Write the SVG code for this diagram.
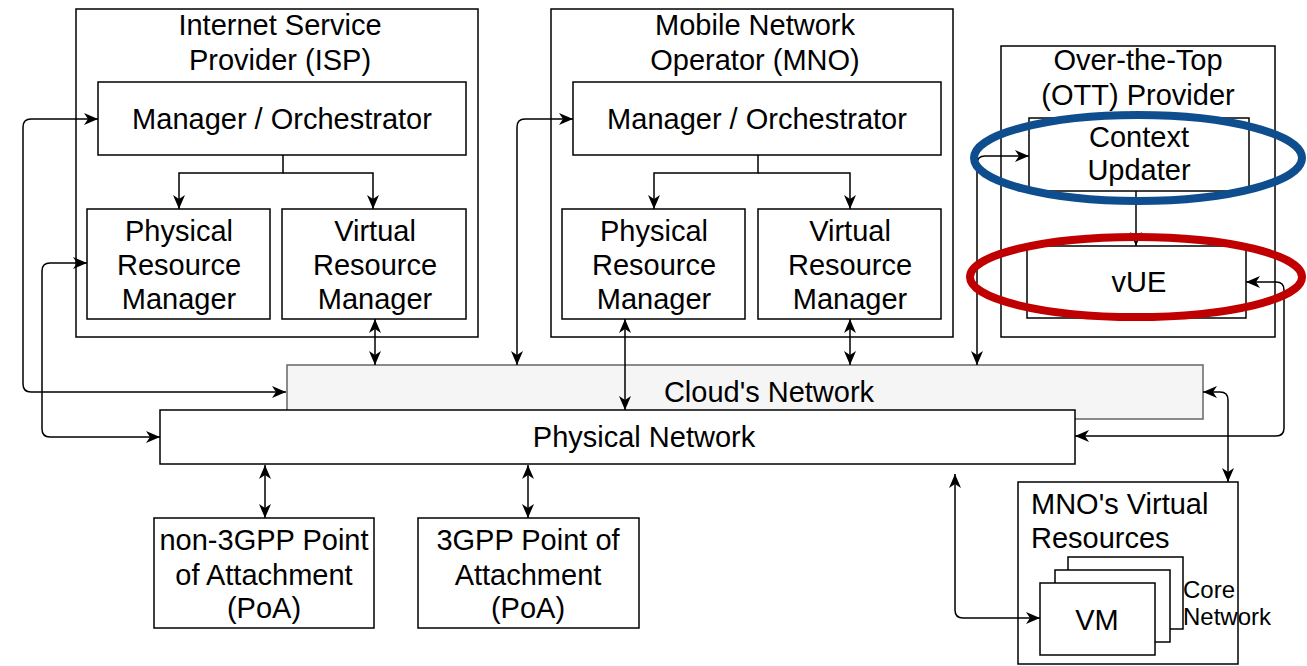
<svg xmlns="http://www.w3.org/2000/svg" width="1307" height="666" viewBox="0 0 1307 666">
<defs>
<style>
.box{fill:#ffffff;stroke:#000000;stroke-width:1.5}
.t{font-family:"Liberation Sans",Arial,Helvetica,sans-serif;font-size:29px;fill:#000000;text-anchor:middle}
.tl{font-family:"Liberation Sans",Arial,Helvetica,sans-serif;font-size:29px;fill:#000000;text-anchor:start}
.ts{font-family:"Liberation Sans",Arial,Helvetica,sans-serif;font-size:24px;fill:#000000;text-anchor:start}
.c{fill:none;stroke:#000000;stroke-width:1.5}
</style>
<marker id="ah" viewBox="0 0 14 12" refX="14" refY="6" markerWidth="14" markerHeight="12" markerUnits="userSpaceOnUse" orient="auto-start-reverse">
<path d="M0,0 L14,6 L0,12 L4,6 Z" fill="#000000"/>
</marker>
</defs>
<rect width="1307" height="666" fill="#ffffff"/>

<g id="isp">
<rect class="box" x="76" y="9" width="402" height="328"/>
<text class="t" x="280" y="35">Internet Service</text>
<text class="t" x="280" y="70">Provider (ISP)</text>
</g>
<g id="isp-mo">
<rect class="box" x="98" y="82" width="368" height="73"/>
<text class="t" x="282" y="129">Manager / Orchestrator</text>
</g>
<g id="isp-prm">
<rect class="box" x="87" y="209" width="183" height="110"/>
<text class="t" x="179" y="241">Physical</text>
<text class="t" x="179" y="275">Resource</text>
<text class="t" x="179" y="309">Manager</text>
</g>
<g id="isp-vrm">
<rect class="box" x="282" y="209" width="184" height="110"/>
<text class="t" x="375" y="241">Virtual</text>
<text class="t" x="375" y="275">Resource</text>
<text class="t" x="375" y="309">Manager</text>
</g>

<g id="mno">
<rect class="box" x="551" y="9" width="402" height="328"/>
<text class="t" x="755" y="35">Mobile Network</text>
<text class="t" x="755" y="70">Operator (MNO)</text>
</g>
<g id="mno-mo">
<rect class="box" x="573" y="82" width="368" height="73"/>
<text class="t" x="757" y="129">Manager / Orchestrator</text>
</g>
<g id="mno-prm">
<rect class="box" x="562" y="209" width="183" height="110"/>
<text class="t" x="654" y="241">Physical</text>
<text class="t" x="654" y="275">Resource</text>
<text class="t" x="654" y="309">Manager</text>
</g>
<g id="mno-vrm">
<rect class="box" x="758" y="209" width="183" height="110"/>
<text class="t" x="850" y="241">Virtual</text>
<text class="t" x="850" y="275">Resource</text>
<text class="t" x="850" y="309">Manager</text>
</g>

<g id="ott">
<rect class="box" x="1001" y="46" width="274" height="291"/>
<text class="t" x="1138" y="70">Over-the-Top</text>
<text class="t" x="1138" y="105">(OTT) Provider</text>
</g>
<g id="context-updater">
<rect class="box" x="1029" y="118" width="220" height="73"/>
<text class="t" x="1139" y="147">Context</text>
<text class="t" x="1139" y="180">Updater</text>
</g>
<g id="vue">
<rect class="box" x="1027" y="246" width="219" height="72"/>
<text class="t" x="1139" y="292">vUE</text>
</g>

<g id="clouds-network">
<rect x="287" y="365" width="916" height="54" fill="#f5f5f5" stroke="#666666" stroke-width="1.5"/>
<text class="t" x="769" y="402">Cloud's Network</text>
</g>
<g id="physical-network">
<rect class="box" x="160" y="410" width="915" height="54"/>
<text class="t" x="644" y="447">Physical Network</text>
</g>

<g id="non3gpp-poa">
<rect class="box" x="154" y="518" width="220" height="110"/>
<text class="t" x="264" y="550">non-3GPP Point</text>
<text class="t" x="264" y="585">of Attachment</text>
<text class="t" x="264" y="618">(PoA)</text>
</g>
<g id="3gpp-poa">
<rect class="box" x="418" y="518" width="221" height="110"/>
<text class="t" x="528" y="550">3GPP Point of</text>
<text class="t" x="528" y="585">Attachment</text>
<text class="t" x="528" y="618">(PoA)</text>
</g>

<g id="mno-virtual-resources">
<rect class="box" x="1018" y="482" width="220" height="182"/>
<text class="tl" x="1031" y="514">MNO's Virtual</text>
<text class="tl" x="1031" y="548">Resources</text>
<rect class="box" x="1068" y="557" width="115" height="72"/>
<rect class="box" x="1055" y="570" width="115" height="72"/>
<rect class="box" x="1040" y="583" width="115" height="72"/>
<text class="t" x="1097" y="630">VM</text>
<text class="ts" x="1183" y="598">Core</text>
<text class="ts" x="1183" y="625">Network</text>
</g>

<g id="connectors">
<path class="c" d="M286 392 L31 392 Q23 392 23 384 L23 127 Q23 119 31 119 L98 119" marker-start="url(#ah)" marker-end="url(#ah)"/>
<path class="c" d="M87 263 L50 263 Q42 263 42 271 L42 429 Q42 437 50 437 L160 437" marker-start="url(#ah)" marker-end="url(#ah)"/>
<path class="c" d="M283 155 L283 173 L179 173 L179 209" marker-end="url(#ah)"/>
<path class="c" d="M283 173 L373 173 L373 209" marker-end="url(#ah)"/>
<path class="c" d="M758 155 L758 173 L654 173 L654 209" marker-end="url(#ah)"/>
<path class="c" d="M758 173 L850 173 L850 209" marker-end="url(#ah)"/>
<path class="c" d="M375 319 L375 365" marker-start="url(#ah)" marker-end="url(#ah)"/>
<path class="c" d="M573 119 L525 119 Q517 119 517 127 L517 365" marker-start="url(#ah)" marker-end="url(#ah)"/>
<path class="c" d="M625 319 L625 410" marker-start="url(#ah)" marker-end="url(#ah)"/>
<path class="c" d="M850 319 L850 365" marker-start="url(#ah)" marker-end="url(#ah)"/>
<path class="c" d="M1029 156 L985 156 Q977 156 977 164 L977 365" marker-start="url(#ah)" marker-end="url(#ah)"/>
<path class="c" d="M1136 191 L1136 246" marker-end="url(#ah)"/>
<path class="c" d="M1246 282 L1276 282 Q1284 282 1284 290 L1284 428 Q1284 436 1276 436 L1075 436" marker-start="url(#ah)" marker-end="url(#ah)"/>
<path class="c" d="M1203 392 L1220 392 Q1228 392 1228 400 L1228 482" marker-start="url(#ah)" marker-end="url(#ah)"/>
<path class="c" d="M955 474 L955 610 Q955 618 963 618 L1040 618" marker-start="url(#ah)" marker-end="url(#ah)"/>
<path class="c" d="M265 465 L265 518" marker-start="url(#ah)" marker-end="url(#ah)"/>
<path class="c" d="M528 465 L528 518" marker-start="url(#ah)" marker-end="url(#ah)"/>
</g>

<g id="highlights">
<ellipse cx="1138" cy="158" rx="164" ry="43" fill="none" stroke="#0e4e8e" stroke-width="8"/>
<ellipse cx="1136" cy="277" rx="166" ry="40" fill="none" stroke="#c00000" stroke-width="8"/>
</g>
</svg>
